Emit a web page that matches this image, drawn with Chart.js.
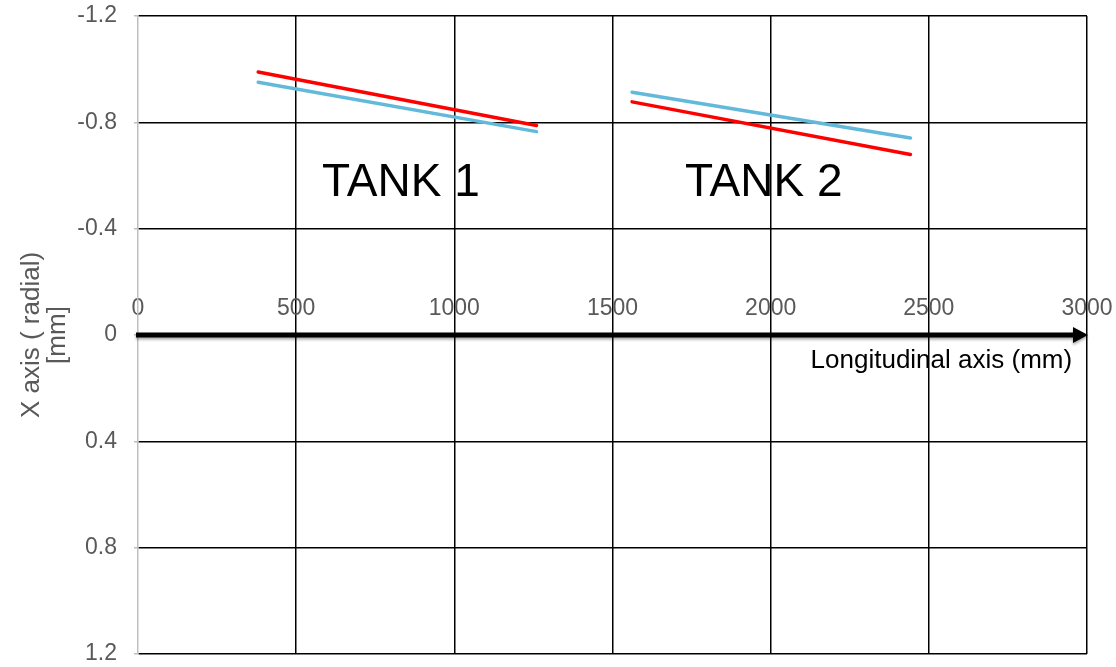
<!DOCTYPE html>
<html>
<head>
<meta charset="utf-8">
<script src="https://cdn.jsdelivr.net/npm/chart.js@4"></script>
<style>
  html, body { margin: 0; padding: 0; background: #ffffff; }
  #wrap { width: 1116px; height: 667px; position: relative; }
</style>
</head>
<body>
<div id="wrap"><canvas id="chart"></canvas></div>
<script>
// Longitudinal positions (mm) of the two tanks
const tank1X = [380, 1260];
const tank2X = [1562, 2442];
// Radial offsets (mm) along each tank
const tank1Red = [-0.989, -0.788];
const tank1Blue = [-0.951, -0.765];
const tank2Red = [-0.877, -0.679];
const tank2Blue = [-0.913, -0.741];

// Axis ticks
const xTicks = [0, 500, 1000, 1500, 2000, 2500, 3000];
const yTicks = [-1.2, -0.8, -0.4, 0, 0.4, 0.8, 1.2];

// Labels drawn on the plot
const tankLabels = ['TANK 1', 'TANK 2'];
const xAxisLabel = 'Longitudinal axis (mm)';
const yAxisLabel = ['X axis ( radial)', '[mm]'];

const FONT = "'Liberation Sans', Arial, sans-serif";
const RED = '#FF0000';
const BLUE = '#62B9DA';

function pts(xs, ys) { return xs.map((x, i) => ({ x: x, y: ys[i] })); }

function lineSet(data, color) {
  return {
    data: data,
    showLine: true,
    borderColor: color,
    backgroundColor: color,
    borderWidth: 3.5,
    borderCapStyle: 'round',
    pointRadius: 0,
    pointHoverRadius: 0,
    fill: false
  };
}

// Thick arrow along the longitudinal axis plus text labels
const overlay = {
  id: 'overlay',
  afterDatasetsDraw(chart) {
    const ctx = chart.ctx;
    const xs = chart.scales.x, ys = chart.scales.y;
    const y0 = ys.getPixelForValue(0);
    const xStart = xs.getPixelForValue(xTicks[0]) - 2;
    const xTip = xs.getPixelForValue(xTicks[xTicks.length - 1]) + 1;
    const headLen = 15, headHalf = 8;

    ctx.save();
    ctx.shadowColor = 'rgba(0,0,0,0.35)';
    ctx.shadowBlur = 3;
    ctx.shadowOffsetY = 2;
    ctx.strokeStyle = '#000';
    ctx.fillStyle = '#000';
    ctx.lineWidth = 5;
    ctx.beginPath();
    ctx.moveTo(xStart, y0);
    ctx.lineTo(xTip - headLen + 1, y0);
    ctx.stroke();
    ctx.beginPath();
    ctx.moveTo(xTip, y0);
    ctx.lineTo(xTip - headLen, y0 - headHalf);
    ctx.lineTo(xTip - headLen, y0 + headHalf);
    ctx.closePath();
    ctx.fill();
    ctx.restore();

    ctx.save();
    ctx.fillStyle = '#000';
    ctx.textBaseline = 'alphabetic';
    ctx.textAlign = 'left';
    ctx.font = '46px ' + FONT;
    ctx.fillText(tankLabels[0], xs.getPixelForValue(582), ys.getPixelForValue(-0.524));
    ctx.fillText(tankLabels[1], xs.getPixelForValue(1729), ys.getPixelForValue(-0.524));
    ctx.textAlign = 'right';
    ctx.font = '26px ' + FONT;
    ctx.fillText(xAxisLabel, xs.getPixelForValue(2953), ys.getPixelForValue(0.126));
    ctx.restore();
  }
};

new Chart(document.getElementById('chart'), {
  type: 'scatter',
  data: {
    datasets: [
      lineSet(pts(tank1X, tank1Red), RED),
      lineSet(pts(tank2X, tank2Red), RED),
      lineSet(pts(tank1X, tank1Blue), BLUE),
      lineSet(pts(tank2X, tank2Blue), BLUE)
    ]
  },
  options: {
    responsive: true,
    maintainAspectRatio: false,
    animation: false,
    layout: { padding: { top: 16, right: 29, bottom: 13, left: 0 } },
    plugins: { legend: { display: false }, tooltip: { enabled: false } },
    scales: {
      x: {
        type: 'linear',
        position: { y: 0 },
        min: 0,
        max: 3000,
        afterBuildTicks(scale) { scale.ticks = xTicks.map(v => ({ value: v })); },
        ticks: {
          color: '#595959',
          font: { family: FONT, size: 23 },
          padding: -40,
          maxRotation: 0,
          autoSkip: false,
          callback: (v) => String(v)
        },
        grid: {
          color: (c) => (c.tick && c.tick.value === 0) ? 'rgba(0,0,0,0)' : '#000',
          lineWidth: 1.5,
          drawTicks: false
        },
        border: { display: false }
      },
      y: {
        type: 'linear',
        reverse: true,
        min: -1.2,
        max: 1.2,
        afterBuildTicks(scale) { scale.ticks = yTicks.map(v => ({ value: v })); },
        afterFit(scale) {
          scale.width = 138;
          scale.paddingTop = 0;
          scale.paddingBottom = 0;
        },
        ticks: {
          color: '#595959',
          font: { family: FONT, size: 23 },
          padding: 17,
          callback: (v) => (v === 0 ? '0' : Number(v).toFixed(1))
        },
        grid: {
          color: '#000',
          lineWidth: 1.5,
          drawTicks: true,
          tickLength: 4,
          tickColor: '#BFBFBF'
        },
        border: { display: true, color: '#BFBFBF', width: 1.5 },
        title: {
          display: true,
          text: yAxisLabel,
          color: '#595959',
          font: { family: FONT, size: 26, lineHeight: 1.0 },
          padding: { top: 19, bottom: 0 }
        }
      }
    }
  },
  plugins: [overlay]
});
</script>
</body>
</html>
